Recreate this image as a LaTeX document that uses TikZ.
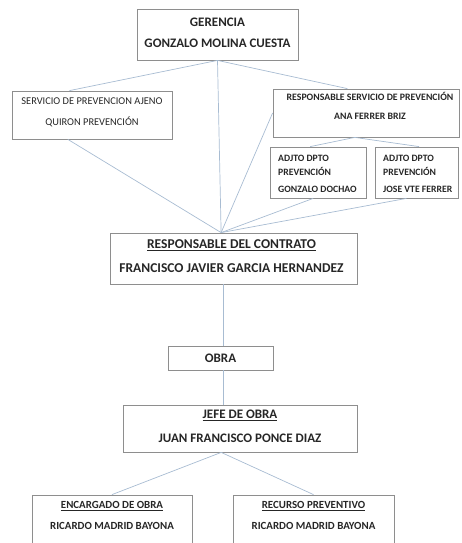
\documentclass[tikz,border=0pt]{standalone}
\usepackage{fontspec}
\setmainfont{Carlito}
\usetikzlibrary{calc}
\definecolor{boxc}{HTML}{8E8E8E}
\definecolor{linec}{HTML}{A8BCD2}
\definecolor{txtc}{HTML}{262626}
\begin{document}
\begin{tikzpicture}[x=1pt,y=-1pt,
  box/.style={draw=boxc,line width=0.8pt,rectangle,inner sep=0pt},
  txt/.style={text=txtc,font=\bfseries,inner sep=0pt,align=center},
  big/.style={font=\bfseries\fontsize{13}{15}\selectfont},
  conn/.style={draw=linec,line width=0.7pt}]
\useasboundingbox (0,0) rectangle (461,543);
\clip (0,0) rectangle (461,543);
% boxes
\node[box,minimum width=161pt,minimum height=51pt] (ger) at (217.5,34.5) {};
\node[box,minimum width=160pt,minimum height=48pt] (spa) at (92,115) {};
\node[box,minimum width=186pt,minimum height=48pt] (rsp) at (366,113) {};
\node[box,minimum width=96pt,minimum height=51pt] (adj1) at (318,172.5) {};
\node[box,minimum width=83pt,minimum height=51pt] (adj2) at (416.5,172.5) {};
\node[box,minimum width=247pt,minimum height=51pt] (con) at (233.5,258.5) {};
\node[box,minimum width=105pt,minimum height=24pt] (obra) at (220.5,358) {};
\node[box,minimum width=234pt,minimum height=47pt] (jefe) at (240,428.5) {};
\node[box,minimum width=160pt,minimum height=70pt] (enc) at (112,530) {};
\node[box,minimum width=161pt,minimum height=70pt] (rec) at (313.5,530) {};
% texts
\node[txt,big] (gerA) at (217.5,22) {GERENCIA};
\node[txt,big] (gerB) at (217.5,43) {GONZALO MOLINA CUESTA};
\node[txt,font=\fontsize{10.4}{12}\selectfont] (spaA) at (92,101) {SERVICIO DE PREVENCION AJENO};
\node[txt,font=\fontsize{10.4}{12}\selectfont] (spaB) at (92,122) {QUIRON PREVENCIÓN};
\node[txt,font=\bfseries\fontsize{9.8}{11}\selectfont] (rspA) at (370,96.5) {RESPONSABLE SERVICIO DE PREVENCIÓN};
\node[txt,font=\bfseries\fontsize{9.8}{11}\selectfont] (rspB) at (370,116.5) {ANA FERRER BRIZ};
\node[txt,font=\bfseries\fontsize{9.7}{11}\selectfont,anchor=west] (adj1A) at (278,158) {ADJTO DPTO};
\node[txt,font=\bfseries\fontsize{9.7}{11}\selectfont,anchor=west] (adj1B) at (278,171) {PREVENCIÓN};
\node[txt,font=\bfseries\fontsize{9.7}{11}\selectfont,anchor=west] (adj1C) at (278,189) {GONZALO DOCHAO};
\node[txt,font=\bfseries\fontsize{9.7}{11}\selectfont,anchor=west] (adj2A) at (383,158) {ADJTO DPTO};
\node[txt,font=\bfseries\fontsize{9.7}{11}\selectfont,anchor=west] (adj2B) at (383,171) {PREVENCIÓN};
\node[txt,font=\bfseries\fontsize{9.7}{11}\selectfont,anchor=west] (adj2C) at (383,189) {JOSE VTE FERRER};
\node[txt,font=\bfseries\fontsize{13.5}{15}\selectfont] (conA) at (231.5,245) {\underline{RESPONSABLE DEL CONTRATO}};
\node[txt,font=\bfseries\fontsize{13.5}{15}\selectfont] (conB) at (231.5,268) {FRANCISCO JAVIER GARCIA HERNANDEZ};
\node[txt,big] (obraA) at (220.5,358) {OBRA};
\node[txt,big] (jefeA) at (240,415) {\underline{JEFE DE OBRA}};
\node[txt,big] (jefeB) at (240,438) {JUAN FRANCISCO PONCE DIAZ};
\node[txt,font=\bfseries\fontsize{10.9}{12}\selectfont] (encA) at (112,506) {\underline{ENCARGADO DE OBRA}};
\node[txt,font=\bfseries\fontsize{10.9}{12}\selectfont] (encB) at (112,526) {RICARDO MADRID BAYONA};
\node[txt,font=\bfseries\fontsize{10.9}{12}\selectfont] (recA) at (313.5,506) {\underline{RECURSO PREVENTIVO}};
\node[txt,font=\bfseries\fontsize{10.9}{12}\selectfont] (recB) at (313.5,526) {RICARDO MADRID BAYONA};
% connector points
\coordinate (gerS) at ($(ger.south west)!0.5!(ger.south east)$);
\coordinate (conN) at ($(con.north west)!0.45!(con.north east)$);
\coordinate (spaN) at ($(spa.north west)!0.36!(spa.north east)$);
\coordinate (spaS) at ($(spa.south west)!0.35!(spa.south east)$);
\coordinate (rspN) at ($(rsp.north west)!0.40!(rsp.north east)$);
\coordinate (rspS) at ($(rsp.south west)!0.44!(rsp.south east)$);
\coordinate (adj1N) at ($(adj1.north west)!0.42!(adj1.north east)$);
\coordinate (adj1S) at ($(adj1.south west)!0.45!(adj1.south east)$);
\coordinate (adj2N) at ($(adj2.north west)!0.53!(adj2.north east)$);
\coordinate (adj2S) at ($(adj2.south west)!0.38!(adj2.south east)$);
\coordinate (conS) at ($(con.south west)!0.46!(con.south east)$);
\coordinate (jefeS) at ($(jefe.south west)!0.42!(jefe.south east)$);
% connectors
\draw[conn] (gerS) -- (spaN);
\draw[conn] (gerS) -- (rspN);
\draw[conn] (gerS) -- (conN);
\draw[conn] (spaS) -- (conN);
\draw[conn] (rsp.west) -- (conN);
\draw[conn] (rspS) -- (adj1N);
\draw[conn] (rspS) -- (adj2N);
\draw[conn] (adj1S) -- (conN);
\draw[conn] (adj2S) -- (conN);
\draw[conn] (conS) -- (conS |- obra.north);
\draw[conn] (obra.south -| conS) -- (conS |- jefe.north);
\draw[conn] (jefeS) -- (enc.north);
\draw[conn] (jefeS) -- (rec.north);
\end{tikzpicture}
\end{document}
